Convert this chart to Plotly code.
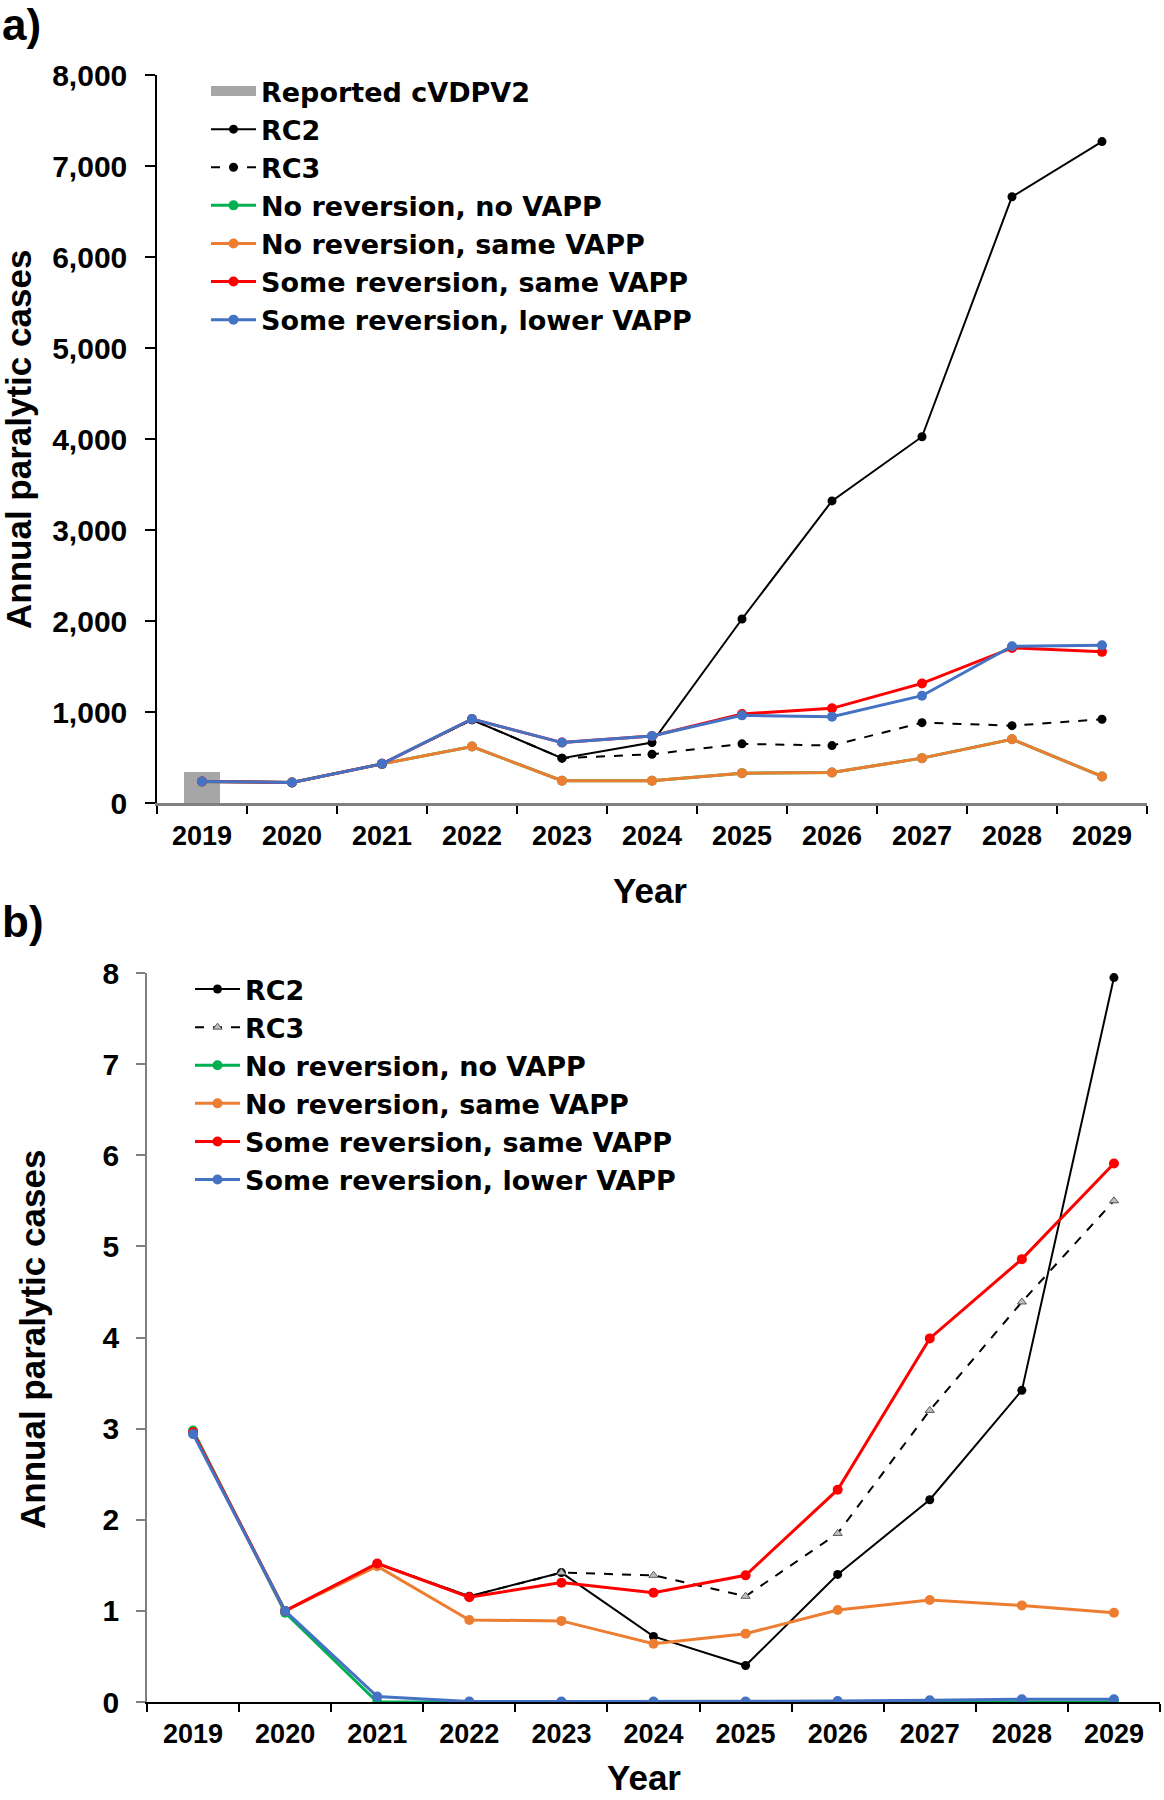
import plotly.graph_objects as go

years = ["2019", "2020", "2021", "2022", "2023", "2024", "2025", "2026", "2027", "2028", "2029"]

# Panel a) annual paralytic cases (cVDPV2-driven)
reported_year = ["2019"]
reported_cvdpv2 = [340]
a_rc2 = [237, 226, 430, 915, 493, 664, 2022, 3320, 4025, 6662, 7268]
a_rc3 = [237, 226, 430, 915, 493, 536, 650, 631, 883, 850, 920]
a_norev_novapp = [237, 226, 430, 620, 245, 245, 328, 336, 493, 701, 292]
a_norev_samevapp = [237, 226, 430, 620, 245, 245, 328, 336, 493, 701, 292]
a_somerev_samevapp = [237, 226, 430, 923, 664, 737, 978, 1040, 1314, 1704, 1661]
a_somerev_lowervapp = [237, 226, 430, 923, 664, 737, 963, 949, 1179, 1723, 1733]

# Panel b) annual paralytic cases (VAPP / type 2)
b_rc2 = [2.96, 1.0, 1.52, 1.16, 1.42, 0.72, 0.40, 1.40, 2.22, 3.42, 7.95]
b_rc3 = [2.96, 1.0, 1.52, 1.16, 1.42, 1.39, 1.16, 1.85, 3.20, 4.39, 5.50]
b_norev_novapp = [2.98, 0.98, 0.0, 0.0, 0.0, 0.0, 0.0, 0.0, 0.0, 0.0, 0.0]
b_norev_samevapp = [2.96, 1.0, 1.49, 0.90, 0.89, 0.64, 0.75, 1.01, 1.12, 1.06, 0.98]
b_somerev_samevapp = [2.96, 1.0, 1.52, 1.15, 1.31, 1.20, 1.39, 2.33, 3.99, 4.86, 5.91]
b_somerev_lowervapp = [2.94, 1.0, 0.06, 0.005, 0.005, 0.005, 0.005, 0.01, 0.02, 0.03, 0.03]

names = ["RC2", "RC3", "No reversion, no VAPP", "No reversion, same VAPP",
         "Some reversion, same VAPP", "Some reversion, lower VAPP"]
colors = ["#000000", "#000000", "#00B050", "#ED7D31", "#FF0000", "#4472C4"]

FONT = "Liberation Sans, Arial, sans-serif"
LEGFONT = "DejaVu Sans, Liberation Sans, sans-serif"
W, H = 1164, 1800

fig = go.Figure()

# ---- Panel a ----
fig.add_trace(go.Bar(x=reported_year, y=reported_cvdpv2, width=0.4,
                     marker=dict(color="#A6A6A6", line=dict(width=0)),
                     showlegend=False, xaxis="x", yaxis="y"))
fig.add_trace(go.Scatter(x=[None], y=[None], mode="lines", name="Reported cVDPV2",
                         line=dict(color="#A6A6A6", width=18),
                         legend="legend", xaxis="x", yaxis="y"))
a_series = [a_rc2, a_rc3, a_norev_novapp, a_norev_samevapp, a_somerev_samevapp, a_somerev_lowervapp]
for i, (nm, vals) in enumerate(zip(names, a_series)):
    dash = "dash" if nm == "RC3" else "solid"
    lw = 2 if i < 2 else 3
    fig.add_trace(go.Scatter(x=years, y=vals, mode="lines+markers", name=nm,
                             line=dict(color=colors[i], width=lw, dash=dash),
                             marker=dict(color=colors[i], size=10 if i >= 2 else 9),
                             legend="legend", xaxis="x", yaxis="y"))

# ---- Panel b ----
b_series = [b_rc2, b_rc3, b_norev_novapp, b_norev_samevapp, b_somerev_samevapp, b_somerev_lowervapp]
for i, (nm, vals) in enumerate(zip(names, b_series)):
    if nm == "RC3":
        line = dict(color="#000000", width=2, dash="dash")
        marker = dict(symbol="triangle-up", size=8, color="#BFBFBF",
                      line=dict(color="#595959", width=1))
    else:
        line = dict(color=colors[i], width=2 if i < 2 else 3)
        marker = dict(color=colors[i], size=10 if i >= 2 else 9)
    fig.add_trace(go.Scatter(x=years, y=vals, mode="lines+markers", name=nm,
                             line=line, marker=marker,
                             legend="legend2", xaxis="x2", yaxis="y2"))

tickfont = dict(family=FONT, size=27, color="#000000", weight="bold")

xcommon = dict(type="category", categoryorder="array", categoryarray=years,
               range=[-0.5, 10.5], tickson="boundaries", ticks="outside", ticklen=8,
               tickwidth=1.5, tickcolor="#000000", showgrid=False, zeroline=False,
               showline=True, tickfont=tickfont, ticklabelstandoff=7, fixedrange=True)

legfont = dict(family=LEGFONT, size=27, color="#000000", weight="bold")

fig.update_layout(
    width=W, height=H,
    margin=dict(l=0, r=0, t=0, b=0, autoexpand=False),
    paper_bgcolor="white", plot_bgcolor="white",
    barmode="overlay",
    font=dict(family=FONT, color="#000000"),
    xaxis=dict(domain=[157 / W, 1147 / W], anchor="y", linecolor="#808080", linewidth=3, **xcommon),
    yaxis=dict(domain=[1 - 803 / H, 1 - 75 / H], anchor="x", range=[0, 8000], dtick=1000,
               tickformat=",d", ticks="outside", ticklen=10, tickwidth=1.5, tickcolor="#000000",
               showline=True, linecolor="#000000", linewidth=1.5, showgrid=False, zeroline=False,
               tickfont=dict(family=FONT, size=30, color="#000000", weight="bold"),
               ticklabelstandoff=12, fixedrange=True),
    xaxis2=dict(domain=[147 / W, 1160 / W], anchor="y2", linecolor="#000000", linewidth=1.5, **xcommon),
    yaxis2=dict(domain=[1 - 1702 / H, 1 - 973 / H], anchor="x2", range=[0, 8], dtick=1,
                ticks="outside", ticklen=9, tickwidth=1.5, tickcolor="#808080",
                showline=True, linecolor="#808080", linewidth=1.5, showgrid=False, zeroline=False,
                tickfont=dict(family=FONT, size=30, color="#000000", weight="bold"),
                ticklabelstandoff=11, fixedrange=True),
    legend=dict(x=206 / W, y=1 - 67 / H, xanchor="left", yanchor="top",
                bgcolor="rgba(0,0,0,0)", itemwidth=45, tracegroupgap=0, font=legfont),
    legend2=dict(x=190 / W, y=1 - 965 / H, xanchor="left", yanchor="top",
                 bgcolor="rgba(0,0,0,0)", itemwidth=45, tracegroupgap=0, font=legfont),
    annotations=[
        dict(text="a)", x=0, y=1 - 25 / H, xref="paper", yref="paper", xanchor="left",
             yanchor="middle", showarrow=False, font=dict(family=FONT, size=44, weight="bold")),
        dict(text="b)", x=0, y=1 - 921 / H, xref="paper", yref="paper", xanchor="left",
             yanchor="middle", showarrow=False, font=dict(family=FONT, size=44, weight="bold")),
        dict(text="Annual paralytic cases", x=18 / W, y=1 - 440 / H, xref="paper", yref="paper",
             textangle=-90, showarrow=False, xanchor="center", yanchor="middle",
             font=dict(family=FONT, size=35, weight="bold")),
        dict(text="Annual paralytic cases", x=32 / W, y=1 - 1340 / H, xref="paper", yref="paper",
             textangle=-90, showarrow=False, xanchor="center", yanchor="middle",
             font=dict(family=FONT, size=35, weight="bold")),
        dict(text="Year", x=650 / W, y=1 - 890 / H, xref="paper", yref="paper",
             showarrow=False, xanchor="center", yanchor="middle",
             font=dict(family=FONT, size=35, weight="bold")),
        dict(text="Year", x=644 / W, y=1 - 1777 / H, xref="paper", yref="paper",
             showarrow=False, xanchor="center", yanchor="middle",
             font=dict(family=FONT, size=35, weight="bold")),
    ],
)

fig.write_html("out.html", config={"displayModeBar": False},
               post_script="document.body.style.margin='0px';")
